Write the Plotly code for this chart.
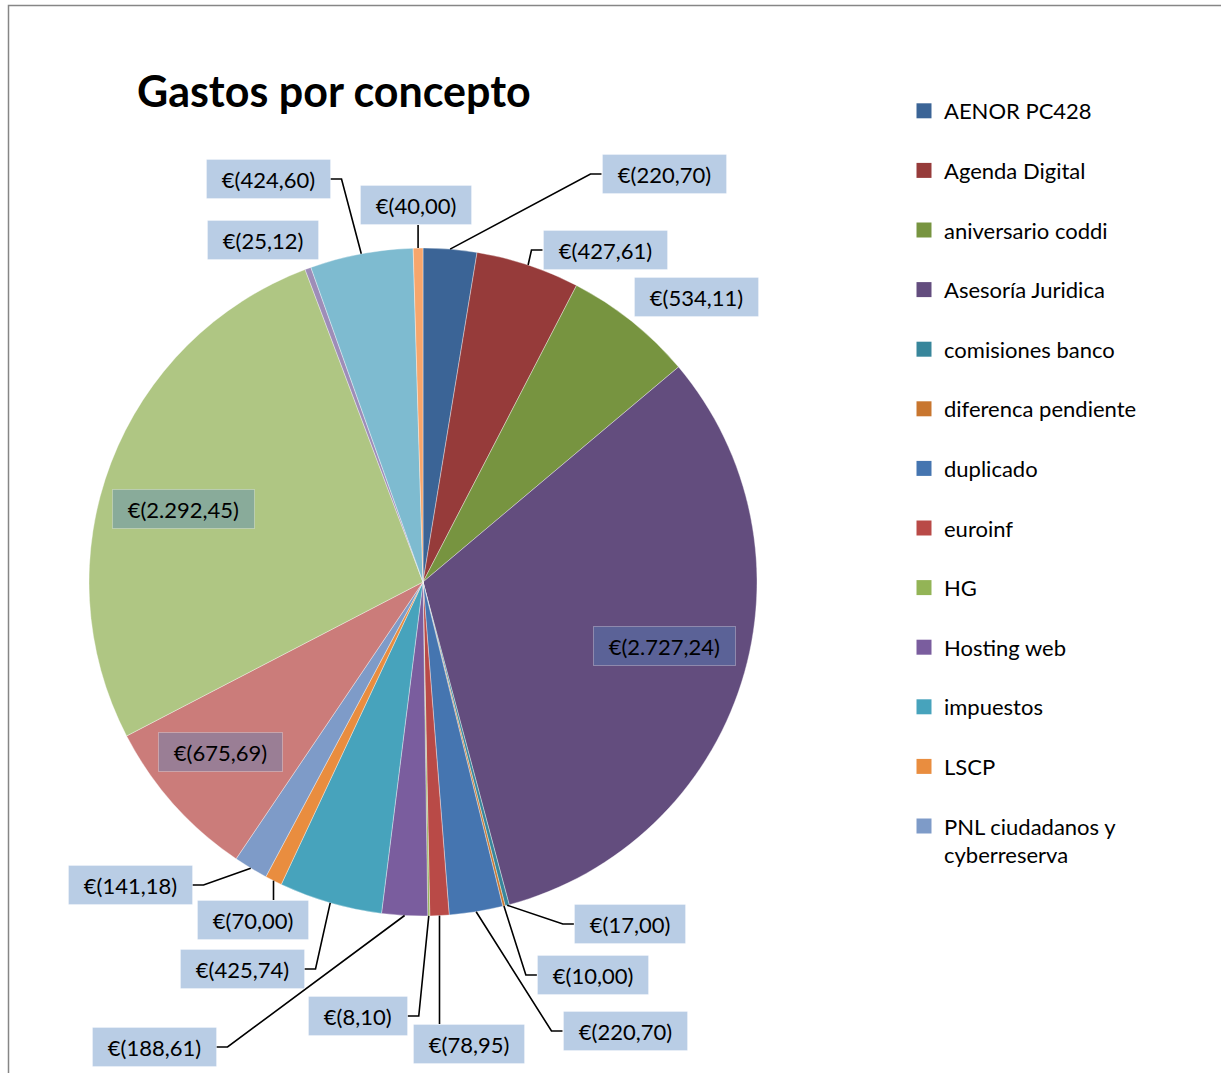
import math
import plotly.graph_objects as go

W, H = 1221, 1073
FONT = "Lato"

# data, slice order clockwise from 12 o'clock (Excel order)
conceptos = [
    "AENOR PC428", "Agenda Digital", "aniversario coddi", "Asesoría Juridica",
    "comisiones banco", "diferenca pendiente", "duplicado", "euroinf", "HG",
    "Hosting web", "impuestos", "LSCP", "PNL ciudadanos y cyberreserva",
    # the last five are cut off the legend in the original
    "concepto 14", "concepto 15", "concepto 16", "concepto 17", "concepto 18",
]
importes = [
    220.70, 427.61, 534.11, 2727.24, 17.00, 10.00, 220.70, 78.95, 8.10,
    188.61, 425.74, 70.00, 141.18, 675.69, 2292.45, 25.12, 424.60, 40.00,
]
colores = [
    "#3B6496", "#963B3A", "#779440", "#634D7E", "#38869B", "#C8762F",
    "#4575B0", "#B94A47", "#93B456", "#7A5D9E", "#47A3BC", "#E98D3F",
    "#7E9BC8", "#CB7C7A", "#AFC683", "#9E8DB8", "#7EBBD0", "#F7A66C",
]
n_legend = 13

# pie geometry in page pixels
CX, CY, R = 423, 582, 334

# label box centre (px) and leader style: r/l = elbow to the right/left box, v = vertical, None = no line
label_pos = [
    (664, 174, "r"), (605, 250, "r"), (696, 297, None), (664, 646, None),
    (630, 924, "r"), (593, 975, "r"), (625, 1031, "r"), (469, 1044, "v"),
    (358, 1016, "l"), (154, 1047, "l"), (242, 969, "l"), (253, 920, "v"),
    (130, 885, "l"), (220, 752, None), (183, 509, None), (263, 240, None),
    (268, 179, "l"), (416, 205, "v"),
]


def fmt_eur(v):
    s = f"{v:,.2f}".replace(",", "X").replace(".", ",").replace("X", ".")
    return f"€({s})"


def text_w(s, size=22):
    em = {"(": 0.31, ")": 0.31, ",": 0.22, ".": 0.22}
    return sum(em.get(c, 0.58) for c in s) * size


fig = go.Figure()

fig.add_trace(go.Pie(
    labels=conceptos,
    values=importes,
    sort=False,
    direction="clockwise",
    rotation=0,
    marker=dict(colors=colores, line=dict(color="rgba(255,255,255,0.6)", width=0.6)),
    textinfo="none",
    hoverinfo="label+value",
    showlegend=False,
    domain=dict(x=[(CX - R) / W, (CX + R) / W], y=[1 - (CY + R) / H, 1 - (CY - R) / H]),
))

# legend entries (only the first 13 fit in the original)
for name, col in zip(conceptos[:n_legend], colores[:n_legend]):
    fig.add_trace(go.Scatter(
        x=[None], y=[None], mode="markers",
        name=name.replace("y cyberreserva", "y<br>cyberreserva"),
        legendgroup=name,
        marker=dict(symbol="square", size=15, color=col),
    ))

# labels + leader lines
total = sum(importes)
cum = 0
shapes = []
annotations = []
for v, (bx, by, kind) in zip(importes, label_pos):
    mid = (cum + v / 2) / total
    cum += v
    ang = 2 * math.pi * mid
    ax, ay = CX + R * math.sin(ang), CY - R * math.cos(ang)
    txt = fmt_eur(v)
    bw = text_w(txt) + 16
    half = bw / 2 + 7
    annotations.append(dict(
        x=bx, y=by, xref="x", yref="y", text=txt, showarrow=False,
        font=dict(family=FONT, size=22, color="black"),
        bgcolor="rgba(79,129,189,0.4)", bordercolor="rgba(255,255,255,0.3)",
        borderwidth=1, borderpad=6, width=bw, height=26,
        xanchor="center", yanchor="middle",
    ))
    if kind == "r":
        path = f"M {ax},{ay} L {bx - half - 11},{by} L {bx - half},{by}"
    elif kind == "l":
        path = f"M {ax},{ay} L {bx + half + 11},{by} L {bx + half},{by}"
    elif kind == "v":
        edge = by - 20 if by > ay else by + 20
        path = f"M {ax},{ay} L {ax},{edge}"
    else:
        continue
    shapes.append(dict(type="path", path=path, xref="x", yref="y",
                       line=dict(color="black", width=1.6), layer="above"))

# chart frame
shapes.append(dict(type="rect", xref="x", yref="y", x0=8.5, y0=5.5, x1=W + 20, y1=H + 20,
                   line=dict(color="#868686", width=1.5), layer="below"))

fig.update_layout(
    width=W, height=H,
    margin=dict(l=0, r=0, t=0, b=0),
    paper_bgcolor="white", plot_bgcolor="white",
    font=dict(family=FONT, color="black"),
    title=dict(text="<b>Gastos por concepto</b>", font=dict(family=FONT, size=43, color="black"),
               x=137 / W, xanchor="left", y=1 - 92 / H, yanchor="middle"),
    xaxis=dict(range=[0, W], visible=False, fixedrange=True, domain=[0, 1]),
    yaxis=dict(range=[H, 0], visible=False, fixedrange=True, domain=[0, 1]),
    legend=dict(x=904 / W, xanchor="left", y=1 - 90 / H, yanchor="top",
                font=dict(family=FONT, size=22, color="black"), valign="top",
                tracegroupgap=28, itemsizing="trace", bgcolor="rgba(0,0,0,0)"),
    shapes=shapes,
    annotations=annotations,
)

fig.write_html("out.html", config={"displayModeBar": False},
               post_script="document.body.style.margin='0';")
